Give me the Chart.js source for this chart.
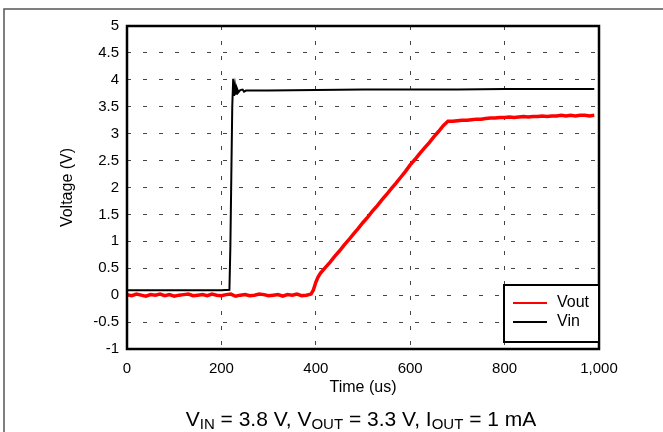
<!DOCTYPE html>
<html>
<head>
<meta charset="utf-8">
<script src="https://cdn.jsdelivr.net/npm/chart.js@4"></script>
<style>
  html, body { margin: 0; padding: 0; background: #fff; }
  #wrap { width: 663px; height: 432px; position: relative; }
</style>
</head>
<body>
<div id="wrap"><canvas id="canvas1"></canvas></div>
<script>
// time in us, voltage in V
var vinTime = [0, 50, 100, 150, 200, 217, 219, 221, 223, 225, 227, 229, 231, 233, 236, 240, 245, 248, 252, 260, 300, 400, 500, 600, 700, 800, 900, 990];
var vinValues = [0.09, 0.09, 0.09, 0.09, 0.09, 0.10, 0.9, 2.2, 3.5, 4.02, 3.70, 3.88, 3.74, 3.84, 3.77, 3.81, 3.82, 3.78, 3.80, 3.80, 3.80, 3.81, 3.82, 3.82, 3.82, 3.83, 3.83, 3.83];

var voutTime = [0, 10, 20, 30, 40, 50, 60, 70, 80, 90, 100, 110, 120, 130, 140, 150, 160, 170, 180, 190,
  200, 210, 220, 230, 240, 250, 260, 270, 280, 290, 300, 310, 320, 330, 340, 350, 360, 370, 380, 390,
  395, 400, 405, 410, 420, 430, 440, 450, 460, 470, 480, 490, 500, 510, 520, 530, 540, 550, 560, 570,
  580, 590, 600, 610, 620, 630, 640, 650, 660, 670, 680, 690, 700, 710, 720, 730, 740, 750, 760, 770,
  780, 790, 800, 810, 820, 830, 840, 850, 860, 870, 880, 890, 900, 910, 920, 930, 940, 950, 960, 970, 980, 990];
var voutValues = [0.01, -0.01, 0.02, 0.00, -0.02, 0.01, 0.00, 0.02, -0.01, 0.01, -0.02, 0.00, 0.01, 0.02, -0.01, 0.00, 0.01, -0.01, 0.02, 0.00,
  -0.01, 0.01, 0.02, -0.02, 0.00, 0.01, -0.01, 0.00, 0.02, 0.01, -0.01, 0.00, 0.01, -0.02, 0.01, 0.00, 0.02, -0.01, 0.00, 0.02,
  0.10, 0.24, 0.34, 0.41, 0.51, 0.61, 0.72, 0.82, 0.93, 1.03, 1.14, 1.24, 1.35, 1.45, 1.56, 1.66, 1.77, 1.87, 1.98, 2.08,
  2.19, 2.30, 2.42, 2.52, 2.63, 2.73, 2.83, 2.94, 3.04, 3.15, 3.23, 3.23, 3.24, 3.25, 3.25, 3.26, 3.27, 3.27, 3.28, 3.29,
  3.29, 3.30, 3.30, 3.31, 3.30, 3.31, 3.32, 3.31, 3.32, 3.32, 3.33, 3.32, 3.33, 3.33, 3.34, 3.33, 3.34, 3.33, 3.34, 3.34, 3.33, 3.34];

var xTickValues = [0, 200, 400, 600, 800, 1000];
var xTickLabels = ['0', '200', '400', '600', '800', '1,000'];
var yTickValues = [-1, -0.5, 0, 0.5, 1, 1.5, 2, 2.5, 3, 3.5, 4, 4.5, 5];
var yTickLabels = ['-1', '-0.5', '0', '0.5', '1', '1.5', '2', '2.5', '3', '3.5', '4', '4.5', '5'];

function toPoints(xs, ys) {
    return xs.map(function (x, i) { return { x: x, y: ys[i] }; });
}

var FONT = "'Liberation Sans', Arial, sans-serif";

// outer figure frame (top and left edge)
var figFrame = {
    id: 'figFrame',
    beforeDraw: function (chart) {
        var c = chart.ctx;
        c.save();
        c.strokeStyle = '#555';
        c.lineWidth = 1.5;
        c.beginPath();
        c.moveTo(4, 432);
        c.lineTo(4, 9);
        c.lineTo(663, 9);
        c.stroke();
        c.restore();
    }
};

// thick box around the plot
var plotBox = {
    id: 'plotBox',
    afterDatasetsDraw: function (chart) {
        var a = chart.chartArea, c = chart.ctx;
        c.save();
        c.strokeStyle = '#000';
        c.lineWidth = 2.5;
        c.strokeRect(a.left, a.top, a.right - a.left, a.bottom - a.top);
        c.restore();
    }
};

// legend box inside plot, bottom right
var boxLegend = {
    id: 'boxLegend',
    afterDraw: function (chart) {
        var a = chart.chartArea, c = chart.ctx;
        var x0 = a.right - 95, y0 = a.bottom - 64, w = 95, h = 57;
        c.save();
        c.fillStyle = '#fff';
        c.fillRect(x0, y0, w, h);
        c.strokeStyle = '#000';
        c.lineWidth = 2;
        c.strokeRect(x0, y0, w, h);
        c.font = '16px ' + FONT;
        c.textBaseline = 'middle';
        chart.data.datasets.forEach(function (ds, i) {
            var y = y0 + 18 + i * 19;
            c.strokeStyle = ds.borderColor;
            c.lineWidth = 2;
            c.beginPath();
            c.moveTo(x0 + 9, y);
            c.lineTo(x0 + 43, y);
            c.stroke();
            c.fillStyle = '#000';
            c.fillText(ds.label, x0 + 53, y);
        });
        c.restore();
    }
};

// caption with subscripts
var caption = {
    id: 'caption',
    afterDraw: function (chart) {
        var c = chart.ctx;
        var parts = [['V', 0], ['IN', 1], [' = 3.8 V, V', 0], ['OUT', 1], [' = 3.3 V, I', 0], ['OUT', 1], [' = 1 mA', 0]];
        var big = '21px ' + FONT, small = '15px ' + FONT;
        c.save();
        var total = 0;
        parts.forEach(function (p) { c.font = p[1] ? small : big; total += c.measureText(p[0]).width; });
        var x = 361 - total / 2, base = 426;
        c.fillStyle = '#000';
        c.textBaseline = 'alphabetic';
        parts.forEach(function (p) {
            c.font = p[1] ? small : big;
            c.fillText(p[0], x, p[1] ? base + 3 : base);
            x += c.measureText(p[0]).width;
        });
        c.restore();
    }
};

var gridStyle = {
    color: '#444',
    lineWidth: 1,
    drawTicks: false
};

var ctx = document.getElementById('canvas1').getContext('2d');
var chart = new Chart(ctx, {
    type: 'line',
    data: {
        datasets: [{
            label: 'Vout',
            data: toPoints(voutTime, voutValues),
            borderColor: '#ff0000',
            borderWidth: 3.5,
            pointRadius: 0,
            tension: 0
        }, {
            label: 'Vin',
            data: toPoints(vinTime, vinValues),
            borderColor: '#000000',
            borderWidth: 2,
            pointRadius: 0,
            tension: 0
        }]
    },
    options: {
        responsive: true,
        maintainAspectRatio: false,
        animation: false,
        layout: { padding: { left: 0, top: 26, right: 64, bottom: 0 } },
        plugins: {
            legend: { display: false },
            tooltip: { enabled: false }
        },
        scales: {
            x: {
                type: 'linear',
                min: 0,
                max: 1000,
                afterFit: function (s) { s.height = 83; },
                afterBuildTicks: function (s) { s.ticks = xTickValues.map(function (v) { return { value: v }; }); },
                ticks: {
                    padding: 11,
                    color: '#000',
                    font: { family: FONT, size: 15 },
                    maxRotation: 0,
                    callback: function (v, i) { return xTickLabels[i]; }
                },
                grid: gridStyle,
                border: { display: false, dash: [4, 11] },
                title: {
                    display: true,
                    text: 'Time (us)',
                    color: '#000',
                    font: { family: FONT, size: 16 },
                    padding: { top: 0, bottom: 35 }
                }
            },
            y: {
                type: 'linear',
                min: -1,
                max: 5,
                afterFit: function (s) { s.width = 127; },
                afterBuildTicks: function (s) { s.ticks = yTickValues.map(function (v) { return { value: v }; }); },
                ticks: {
                    padding: 8,
                    color: '#000',
                    font: { family: FONT, size: 15 },
                    callback: function (v, i) { return yTickLabels[i]; }
                },
                grid: gridStyle,
                border: { display: false, dash: [4, 12] },
                title: {
                    display: true,
                    text: 'Voltage (V)',
                    color: '#000',
                    font: { family: FONT, size: 16 },
                    padding: { top: 58, bottom: 0 }
                }
            }
        }
    },
    plugins: [figFrame, plotBox, boxLegend, caption]
});
</script>
</body>
</html>
